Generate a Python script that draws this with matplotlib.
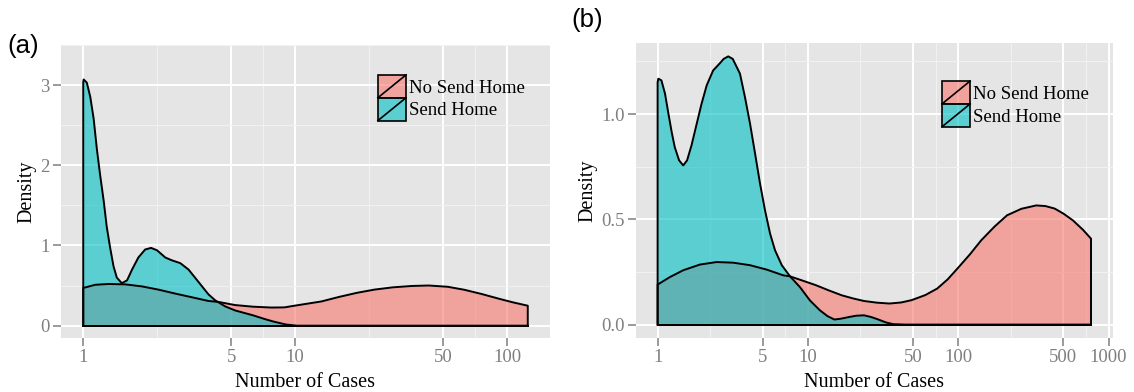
import numpy as np
import matplotlib
matplotlib.use('Agg')
import matplotlib.pyplot as plt
from matplotlib.patches import Patch, Rectangle
from matplotlib.lines import Line2D
from matplotlib.legend_handler import HandlerPatch

# Density curves of number of cases (log x axis)
# (a)
a_send_x = [1.0, 1.0, 1.005, 1.04, 1.08, 1.12, 1.16, 1.20, 1.25, 1.29, 1.34, 1.39, 1.44,
            1.52, 1.61, 1.70, 1.82, 1.96, 2.09, 2.23, 2.44, 2.62, 2.87, 3.14, 3.50, 3.90,
            4.20, 4.68, 5.21, 6.31, 7.16, 7.94, 9.04, 10.2, 125.3]
a_send_y = [0.0, 3.04, 3.07, 3.03, 2.85, 2.58, 2.20, 1.89, 1.55, 1.24, 0.97, 0.74, 0.60,
            0.53, 0.565, 0.70, 0.85, 0.95, 0.97, 0.94, 0.85, 0.815, 0.78, 0.70, 0.545, 0.39,
            0.315, 0.24, 0.19, 0.13, 0.084, 0.05, 0.015, 0.0, 0.0]
a_nosend_x = [1.0, 1.0, 1.14, 1.32, 1.58, 1.89, 2.26, 2.72, 3.26, 3.90, 4.35, 5.21, 6.31,
              7.74, 8.9, 9.93, 13.3, 16.2, 19.6, 23.7, 28.9, 35.5, 42.7, 52.5, 62.8, 75.9,
              92.5, 107.0, 125.3, 125.3]
a_nosend_y = [0.0, 0.47, 0.51, 0.52, 0.515, 0.49, 0.45, 0.40, 0.354, 0.308, 0.296, 0.257, 0.237,
              0.226, 0.228, 0.249, 0.302, 0.36, 0.41, 0.45, 0.478, 0.495, 0.501, 0.485, 0.448,
              0.395, 0.333, 0.29, 0.249, 0.0]

# (b)
b_send_x = [1.0, 1.0, 1.01, 1.06, 1.12, 1.18, 1.24, 1.30, 1.39, 1.48, 1.57, 1.68, 1.82,
            1.96, 2.12, 2.34, 2.60, 2.75, 2.95, 3.16, 3.53, 3.81, 4.12, 4.45, 4.80, 5.18,
            5.60, 6.04, 6.70, 7.60, 8.85, 10.3, 12.0, 13.5, 15.0, 16.6, 18.8, 20.9, 23.6,
            26.3, 29.4, 33.1, 36.9, 44.7, 764.0]
b_send_y = [0.0, 1.15, 1.168, 1.16, 1.097, 1.002, 0.915, 0.843, 0.78, 0.756, 0.78, 0.851, 0.954,
            1.049, 1.136, 1.207, 1.242, 1.262, 1.274, 1.262, 1.192, 1.081, 0.954, 0.812, 0.670,
            0.543, 0.432, 0.353, 0.282, 0.229, 0.178, 0.115, 0.068, 0.04, 0.024, 0.028, 0.036,
            0.042, 0.044, 0.036, 0.024, 0.01, 0.002, 0.0, 0.0]
b_nosend_x = [1.0, 1.0, 1.21, 1.48, 1.91, 2.47, 3.18, 4.12, 5.32, 6.85, 7.60, 9.12, 11.3,
              13.8, 16.8, 20.0, 23.6, 28.8, 34.9, 41.7, 48.9, 60.3, 72.4, 85.1, 101.0, 120.0,
              142.0, 174.0, 211.0, 263.0, 330.0, 380.0, 438.0, 501.0, 579.0, 676.0, 764.0, 764.0]
b_nosend_y = [0.0, 0.19, 0.226, 0.258, 0.285, 0.297, 0.294, 0.282, 0.261, 0.234, 0.229, 0.21, 0.187,
              0.162, 0.139, 0.124, 0.112, 0.104, 0.1, 0.105, 0.116, 0.14, 0.171, 0.215, 0.274, 0.335,
              0.4, 0.465, 0.519, 0.550, 0.566, 0.563, 0.551, 0.527, 0.495, 0.45, 0.408, 0.0]

a_xticks = [1, 5, 10, 50, 100]
a_yticks = [0, 1, 2, 3]
b_xticks = [1, 5, 10, 50, 100, 500, 1000]
b_yticks = [0.0, 0.5, 1.0]

groups = ['No Send Home', 'Send Home']
colors = ['#F8766D', '#00BFC4']

SERIF = 'Liberation Serif'
GREY = '#7F7F7F'


class SlashKey(HandlerPatch):
    def create_artists(self, legend, orig_handle, xdescent, ydescent,
                       width, height, fontsize, trans):
        x0, y0 = -xdescent, -ydescent
        rect = Rectangle((x0, y0), width, height, facecolor=orig_handle.get_facecolor(),
                         edgecolor='black', lw=1.2, transform=trans)
        slash = Line2D([x0, x0 + width], [y0, y0 + height], color='black', lw=1.2,
                       transform=trans)
        return [rect, slash]


def draw_panel(ax, curves, xticks, yticks, ylabels, legend_pos):
    ax.set_facecolor('#E5E5E5')
    for s in ax.spines.values():
        s.set_visible(False)
    ax.set_xscale('log')

    for (x, y), col in zip(curves, colors):
        ax.fill(x, y, facecolor=col, alpha=0.6, edgecolor='none', zorder=3)
        ax.plot(x, y, color='black', lw=1.4, zorder=4, solid_joinstyle='round')
        ax.plot([x[0], x[-1]], [0, 0], color='black', lw=1.4, zorder=4)

    xmax = max(max(c[0]) for c in curves)
    ymax = max(max(c[1]) for c in curves)
    lo, hi = 0.0, np.log10(xmax)
    pad = 0.05 * (hi - lo)
    ax.set_xlim(10 ** (lo - pad), 10 ** (hi + pad))
    ax.set_ylim(-0.05 * ymax, 1.05 * ymax)

    ax.set_xticks(xticks)
    ax.set_xticklabels([str(t) for t in xticks])
    ax.set_yticks(yticks)
    ax.set_yticklabels(ylabels)
    xminor = [np.sqrt(a * b) for a, b in zip(xticks[:-1], xticks[1:])]
    yminor = [(a + b) / 2 for a, b in zip(yticks[:-1], yticks[1:])]
    yminor.append(yticks[-1] + (yticks[1] - yticks[0]) / 2)
    ax.set_xticks(xminor, minor=True)
    ax.set_yticks(yminor, minor=True)
    ax.grid(True, which='major', color='white', lw=1.4, zorder=0)
    ax.grid(True, which='minor', color='#F2F2F2', lw=0.7, zorder=0)
    ax.set_axisbelow(True)

    ax.tick_params(which='major', direction='out', length=6, width=1.1, color=GREY,
                   labelcolor=GREY, pad=2, labelsize=13.5)
    ax.tick_params(which='minor', length=0)
    for lab in ax.get_xticklabels() + ax.get_yticklabels():
        lab.set_family(SERIF)

    ax.set_xlabel('Number of Cases', family=SERIF, fontsize=14.5, labelpad=5)
    ax.set_ylabel('Density', family=SERIF, fontsize=14.5, labelpad=3)

    handles = [Patch(facecolor=c, alpha=0.6) for c in colors]
    leg = ax.legend(handles, groups, loc='upper left', bbox_to_anchor=legend_pos,
                    frameon=False, handler_map={Patch: SlashKey()},
                    prop={'family': SERIF, 'size': 13.5}, handlelength=1.5,
                    handleheight=1.5, labelspacing=0, handletextpad=0.15,
                    borderpad=0, borderaxespad=0)
    leg.set_zorder(5)


fig = plt.figure(figsize=(11.34, 3.92), dpi=100)
ax_a = fig.add_axes([0.0538, 0.1378, 0.4312, 0.7474])
ax_b = fig.add_axes([0.5608, 0.1378, 0.4204, 0.7526])

draw_panel(ax_a, [(a_nosend_x, a_nosend_y), (a_send_x, a_send_y)],
           a_xticks, a_yticks, [str(t) for t in a_yticks], (0.648, 0.898))
draw_panel(ax_b, [(b_nosend_x, b_nosend_y), (b_send_x, b_send_y)],
           b_xticks, b_yticks, ['%.1f' % t for t in b_yticks], (0.642, 0.871))

fig.text(23 / 1134, 1 - 46 / 392, '(a)', family='Liberation Sans', fontsize=18.5,
         ha='center', va='center')
fig.text(587 / 1134, 1 - 20 / 392, '(b)', family='Liberation Sans', fontsize=18.5,
         ha='center', va='center')

fig.savefig('out.png', dpi=100)
